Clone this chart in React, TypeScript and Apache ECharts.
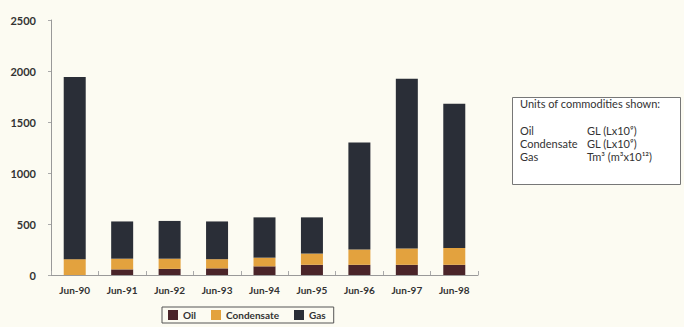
import React, { useEffect, useRef } from "react";
import * as echarts from "echarts";

const categories = ["Jun-90", "Jun-91", "Jun-92", "Jun-93", "Jun-94", "Jun-95", "Jun-96", "Jun-97", "Jun-98"];
const oil = [0, 55, 60, 65, 85, 100, 100, 100, 100];
const condensate = [155, 105, 100, 90, 85, 110, 150, 160, 165];
const gas = [1785, 365, 370, 370, 395, 355, 1050, 1665, 1415];
const yTicks = [0, 500, 1000, 1500, 2000, 2500];
const unitsTitle = "Units of commodities shown:";
const unitNames = ["Oil", "Condensate", "Gas"];
const unitValues = ["GL (Lx10⁹)", "GL (Lx10⁹)", "Tm³ (m³x10¹²)"];

const FONT = "Lato, 'Open Sans', sans-serif";

export default function App() {
  const ref = useRef<HTMLDivElement>(null);
  useEffect(() => {
    if (!ref.current) return;
    const chart = echarts.init(ref.current, null, { renderer: "svg" });
    const unitTexts: any[] = [];
    unitNames.forEach((n, i) => {
      unitTexts.push({
        type: "text",
        left: 520,
        top: 125 + i * 13,
        style: { text: n, fill: "#333", font: `11px ${FONT}` },
      });
      unitTexts.push({
        type: "text",
        left: 587,
        top: 125 + i * 13,
        style: { text: unitValues[i], fill: "#333", font: `11px ${FONT}` },
      });
    });
    chart.setOption({
      animation: false,
      backgroundColor: "#fcfbf2",
      textStyle: { fontFamily: FONT },
      grid: { left: 51, right: 206, top: 20, bottom: 52 },
      legend: {
        data: ["Oil", "Condensate", "Gas"],
        left: 162,
        top: 307,
        itemWidth: 10,
        itemHeight: 10,
        itemGap: 15,
        padding: [3, 8, 3, 6],
        borderColor: "#555",
        borderWidth: 1,
        icon: "rect",
        textStyle: { fontSize: 10, fontWeight: "bold", color: "#333", fontFamily: FONT },
      },
      xAxis: {
        type: "category",
        data: categories,
        axisLine: { lineStyle: { color: "#999", width: 1 } },
        axisTick: { show: true, inside: true, length: 4, lineStyle: { color: "#aaa" } },
        axisLabel: { fontSize: 10, fontWeight: "bold", color: "#333", margin: 10 },
      },
      yAxis: {
        type: "value",
        min: 0,
        max: 2500,
        interval: 500,
        splitLine: { show: false },
        axisLine: { show: true, lineStyle: { color: "#999", width: 1 } },
        axisTick: { show: true, length: 3, lineStyle: { color: "#aaa" } },
        axisLabel: {
          fontSize: 11,
          fontWeight: "bold",
          color: "#333",
          margin: 15,
          formatter: (v: number) => (yTicks.includes(v) ? String(v) : ""),
        },
      },
      series: [
        { name: "Oil", type: "bar", stack: "t", data: oil, barWidth: 22, itemStyle: { color: "#4a2429" } },
        { name: "Condensate", type: "bar", stack: "t", data: condensate, barWidth: 22, itemStyle: { color: "#e3a23e" } },
        { name: "Gas", type: "bar", stack: "t", data: gas, barWidth: 22, itemStyle: { color: "#2a2e37" } },
      ],
      graphic: [
        {
          type: "rect",
          left: 512,
          top: 97,
          shape: { width: 168, height: 87 },
          style: { fill: "#ffffff", stroke: "#777", lineWidth: 1 },
        },
        {
          type: "text",
          left: 520,
          top: 98,
          style: { text: unitsTitle, fill: "#333", font: `11px ${FONT}` },
        },
        ...unitTexts,
      ],
    });
    return () => chart.dispose();
  }, []);
  return <div ref={ref} style={{ position: "absolute", left: 0, top: 0, width: 684, height: 327 }} />;
}
